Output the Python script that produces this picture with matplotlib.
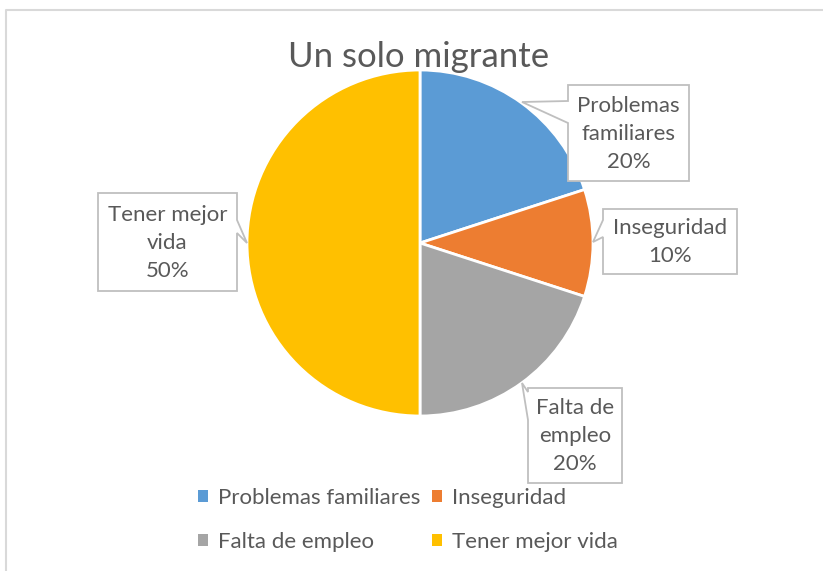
import matplotlib.pyplot as plt
from matplotlib.patches import Polygon

plt.rcParams['font.family'] = ['Lato', 'DejaVu Sans']

# chart data
categories = ['Problemas familiares', 'Inseguridad', 'Falta de empleo', 'Tener mejor vida']
shares = [20, 10, 20, 50]
label_text = ['Problemas\nfamiliares', 'Inseguridad', 'Falta de\nempleo', 'Tener mejor\nvida']
colors = ['#5B9BD5', '#ED7D31', '#A5A5A5', '#FFC000']
title = 'Un solo migrante'

W, H = 823, 571
fig = plt.figure(figsize=(W / 100, H / 100), dpi=100)
ax = fig.add_axes([0, 0, 1, 1])

def fy(y):
    # image row -> data y
    return H - y

# outer chart frame (only top and left visible)
ax.plot([6, 6, W], [0, fy(10), fy(10)], color='#D9D9D9', lw=1.5, solid_capstyle='butt')

wedges, _ = ax.pie(shares, colors=colors, startangle=90, counterclock=False,
                   center=(420, fy(243)), radius=173, frame=True,
                   wedgeprops=dict(edgecolor='white', linewidth=2))
ax.set_xlim(0, W)
ax.set_ylim(0, H)
ax.axis('off')

ax.text(419, fy(57), title, ha='center', va='center', fontsize=25, color='#595959')

# callout boxes: (left, top, right, bottom), pointer tip, pointer base on box edge
callouts = [
    dict(box=(568, 85, 689, 181), tip=(522, 102), side='left', base=(101, 123)),
    dict(box=(603, 209, 737, 274), tip=(593, 242), side='left', base=(220, 237)),
    dict(box=(528, 388, 622, 483), tip=(522, 383), side='left', base=(392, 420)),
    dict(box=(98, 193, 237, 291), tip=(247, 243), side='right', base=(220, 233)),
]

for c, lab, val in zip(callouts, label_text, shares):
    l, t, r, b = c['box']
    tx, ty = c['tip']
    b0, b1 = c['base']
    if c['side'] == 'left':
        pts = [(l, t), (r, t), (r, b), (l, b), (l, b1), (tx, ty), (l, b0)]
    else:
        pts = [(l, t), (r, t), (r, b0), (tx, ty), (r, b1), (r, b), (l, b)]
    pts = [(x, fy(y)) for x, y in pts]
    ax.add_patch(Polygon(pts, closed=True, facecolor='white', edgecolor='#BFBFBF', lw=1.3, zorder=5))
    ax.text((l + r) / 2, fy((t + b) / 2 + 1), f'{lab}\n{val}%', ha='center', va='center',
            fontsize=16, color='#595959', linespacing=1.5, zorder=6)

# legend, two rows
order = [0, 2, 1, 3]
leg = ax.legend([wedges[i] for i in order], [categories[i] for i in order],
                ncol=2, loc='center', bbox_to_anchor=(408 / W, 1 - 520 / H),
                frameon=False, fontsize=16, handlelength=0.45, handleheight=0.45,
                handletextpad=0.45, columnspacing=0.55, labelspacing=1.05, labelcolor='#595959')
for h in leg.legend_handles:
    h.set_edgecolor('none')

fig.savefig('out.png', dpi=100)
